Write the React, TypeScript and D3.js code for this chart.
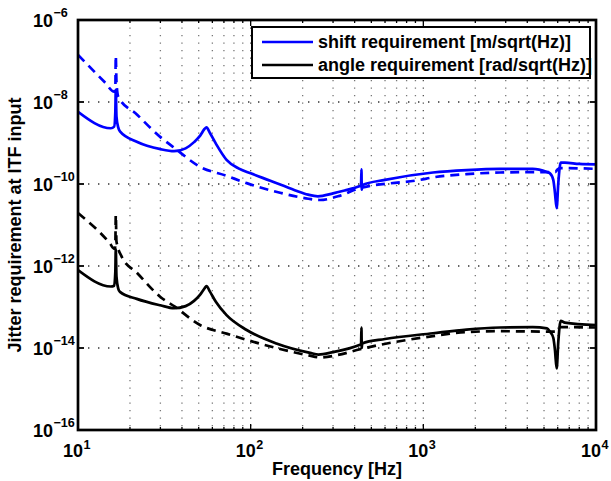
import React from "react";
import * as d3 from "d3";

// ---------- data ----------
const shiftSolidFreq = [10, 15.5, 16.2, 16.45, 16.55, 16.7, 17.1, 17.5, 21.9, 30, 36, 42, 47, 51, 54, 55.5, 58, 63, 72.5, 85, 100, 130, 180, 215, 245, 300, 350, 430, 436, 438, 440, 442, 600, 1137, 1780, 2780, 4300, 5200, 5414, 5657, 5786, 5918, 6048, 6246, 6600, 8000, 10000];
const shiftSolidVal = [5.75e-9, 2.29e-9, 2.51e-9, 5.62e-9, 1.95e-8, 4.47e-9, 2.4e-9, 1.91e-9, 1.07e-9, 7.08e-10, 6.31e-10, 7.41e-10, 1.05e-9, 1.51e-9, 2.19e-9, 2.4e-9, 1.78e-9, 9.55e-10, 3.89e-10, 2.4e-10, 1.82e-10, 1.2e-10, 7.08e-11, 5.5e-11, 5.01e-11, 5.89e-11, 6.92e-11, 8.91e-11, 9.12e-11, 2.29e-10, 7.24e-11, 9.33e-11, 1.26e-10, 1.91e-10, 2.19e-10, 2.34e-10, 2.34e-10, 1.95e-10, 1.82e-10, 1.26e-10, 6.03e-11, 2.57e-11, 1.05e-10, 3.31e-10, 3.31e-10, 3.09e-10, 3.02e-10];

const shiftDashFreq = [10, 14.3, 16.2, 16.45, 16.55, 16.7, 17.1, 22, 29.9, 36.4, 50.9, 72.5, 94.8, 150, 216, 252, 320, 430, 957, 1137, 1780, 2780, 4700, 5800, 6000, 6250, 10000];
const shiftDashVal = [1.41e-7, 3.02e-8, 1.78e-8, 2.0e-8, 1.32e-7, 3.16e-8, 1.35e-8, 4.9e-9, 1.41e-9, 7.41e-10, 2.63e-10, 1.58e-10, 1.05e-10, 6.03e-11, 4.37e-11, 4.07e-11, 5.01e-11, 7.94e-11, 1.26e-10, 1.45e-10, 1.74e-10, 1.91e-10, 1.95e-10, 1.95e-10, 2.29e-10, 2.45e-10, 2.34e-10];

const angleSolidFreq = [10, 15.5, 16.2, 16.45, 16.55, 16.7, 17.1, 17.5, 21.9, 30, 36, 42, 47, 51, 54, 55.5, 58, 63, 72.5, 94.8, 141, 221, 247, 300, 430, 436, 438, 440, 442, 600, 1137, 1780, 2780, 4300, 5200, 5414, 5657, 5786, 5918, 6048, 6246, 6600, 10000];
const angleSolidVal = [7.94e-13, 3.16e-13, 3.31e-13, 7.08e-13, 2.57e-12, 5.62e-13, 2.82e-13, 2.34e-13, 1.58e-13, 1.1e-13, 9.33e-14, 1.05e-13, 1.41e-13, 2.0e-13, 2.82e-13, 3.24e-13, 2.4e-13, 1.32e-13, 6.31e-14, 2.75e-14, 1.29e-14, 7.59e-15, 6.92e-15, 7.94e-15, 1.2e-14, 1.23e-14, 3.16e-14, 1.0e-14, 1.29e-14, 1.66e-14, 2.29e-14, 2.82e-14, 3.16e-14, 3.24e-14, 3.02e-14, 2.51e-14, 1.78e-14, 8.91e-15, 3.16e-15, 1.41e-14, 4.57e-14, 4.17e-14, 3.63e-14];

const angleDashFreq = [10, 15.3, 16.2, 16.45, 16.55, 16.7, 17.9, 22, 29.9, 36.4, 50.9, 72.5, 94.8, 150, 216, 252, 320, 430, 1137, 1780, 2780, 5800, 6000, 6250, 10000];
const angleDashVal = [1.95e-11, 3.55e-12, 2.63e-12, 3.02e-12, 1.74e-11, 3.98e-12, 1.7e-12, 6.76e-13, 1.78e-13, 1.02e-13, 3.63e-14, 2.24e-14, 1.58e-14, 9.33e-15, 6.61e-15, 5.89e-15, 6.76e-15, 9.33e-15, 1.95e-14, 2.45e-14, 2.57e-14, 2.51e-14, 3.02e-14, 3.24e-14, 3.16e-14];

const xTickExps = [1, 2, 3, 4];
const yTickExps = [-6, -8, -10, -12, -14, -16];
const legendLabels = ["shift requirement [m/sqrt(Hz)]", "angle requirement [rad/sqrt(Hz)]"];
const legendColors = ["#0000ff", "#000000"];

// ---------- layout ----------
const W = 611;
const H = 481;
const L = 78, R = 596, T = 20, B = 430;
const FONT = "'Liberation Sans', Arial, Helvetica, sans-serif";

export default function App() {
  const x = d3.scaleLog().domain([10, 1e4]).range([L, R]);
  const y = d3.scaleLog().domain([1e-16, 1e-6]).range([B, T]);

  const line = d3
    .line<[number, number]>()
    .x((d) => x(d[0]))
    .y((d) => y(d[1]))
    .curve(d3.curveMonotoneX);

  const zip = (f: number[], v: number[]) => f.map((ff, i) => [ff, v[i]] as [number, number]);

  const series = [
    { pts: zip(shiftDashFreq, shiftDashVal), color: "#0000ff", dash: "9,6" },
    { pts: zip(angleDashFreq, angleDashVal), color: "#000000", dash: "9,6" },
    { pts: zip(shiftSolidFreq, shiftSolidVal), color: "#0000ff", dash: null },
    { pts: zip(angleSolidFreq, angleSolidVal), color: "#000000", dash: null },
  ];

  // minor + major x grid positions
  const xGrid: number[] = [];
  [10, 100, 1000].forEach((dec) => {
    for (let k = 1; k <= 9; k++) {
      const v = k * dec;
      if (v > 10 && v < 1e4) xGrid.push(v);
    }
  });
  const xMajorInner = [100, 1000];
  const yGrid = [1e-8, 1e-10, 1e-12, 1e-14];

  return (
    <svg
      width={W}
      height={H}
      style={{ position: "absolute", left: 0, top: 0, background: "#fff" }}
      fontFamily={FONT}
      fontWeight="bold"
    >
      <defs>
        <clipPath id="plotclip">
          <rect x={L} y={T} width={R - L} height={B - T} />
        </clipPath>
      </defs>
      <rect x={0} y={0} width={W} height={H} fill="#fff" />

      {/* grid */}
      {xGrid.map((v) => (
        <line
          key={"xg" + v}
          x1={x(v)}
          x2={x(v)}
          y1={T}
          y2={B}
          stroke={xMajorInner.includes(v) ? "#555" : "#777"}
          strokeWidth={1.3}
          strokeDasharray="1.3,6.2"
        />
      ))}
      {yGrid.map((v) => (
        <line
          key={"yg" + v}
          x1={L}
          x2={R}
          y1={y(v)}
          y2={y(v)}
          stroke="#333"
          strokeWidth={1.4}
          strokeDasharray="1.4,8.6"
        />
      ))}

      {/* curves */}
      <g clipPath="url(#plotclip)">
        {series.map((s, i) => (
          <path
            key={i}
            d={line(s.pts) || ""}
            fill="none"
            stroke={s.color}
            strokeWidth={2.7}
            strokeDasharray={s.dash || undefined}
            strokeLinejoin="round"
          />
        ))}
      </g>

      {/* ticks */}
      {xGrid.map((v) => {
        const len = xMajorInner.includes(v) ? 6 : 3;
        return (
          <g key={"xt" + v} stroke="#000" strokeWidth={1.3}>
            <line x1={x(v)} x2={x(v)} y1={B} y2={B - len} />
            <line x1={x(v)} x2={x(v)} y1={T} y2={T + len} />
          </g>
        );
      })}
      {yGrid.map((v) => (
        <g key={"yt" + v} stroke="#000" strokeWidth={1.8}>
          <line x1={L} x2={L + 6} y1={y(v)} y2={y(v)} />
          <line x1={R} x2={R - 6} y1={y(v)} y2={y(v)} />
        </g>
      ))}

      {/* frame */}
      <rect x={L} y={T} width={R - L} height={B - T} fill="none" stroke="#000" strokeWidth={2.7} />

      {/* y tick labels */}
      {yTickExps.map((e) => {
        const yy = y(Math.pow(10, e));
        return (
          <g key={"yl" + e} fill="#000">
            <text x={53} y={yy + 7} fontSize={18} textAnchor="end">10</text>
            <text x={53.5} y={yy - 3} fontSize={12.6}>{"\u2212" + Math.abs(e)}</text>
          </g>
        );
      })}

      {/* x tick labels */}
      {xTickExps.map((e) => {
        const xx = x(Math.pow(10, e));
        return (
          <g key={"xl" + e} fill="#000">
            <text x={xx + 5} y={457} fontSize={18} textAnchor="end">10</text>
            <text x={xx + 5.5} y={449} fontSize={12.6}>{e}</text>
          </g>
        );
      })}

      {/* axis labels */}
      <text x={(L + R) / 2} y={475} fontSize={18} textAnchor="middle" fill="#000">
        Frequency [Hz]
      </text>
      <text
        transform={`translate(21, ${(T + B) / 2}) rotate(-90)`}
        fontSize={18}
        textAnchor="middle"
        fill="#000"
      >
        Jitter requirement at ITF input
      </text>

      {/* legend */}
      <rect x={252} y={27} width={338} height={51} fill="#fff" stroke="#000" strokeWidth={2} />
      {legendLabels.map((lab, i) => {
        const ly = 42 + i * 23;
        return (
          <g key={"lg" + i}>
            <line x1={262} x2={313} y1={ly} y2={ly} stroke={legendColors[i]} strokeWidth={2.7} />
            <text x={318} y={ly + 6} fontSize={18} fill="#000">{lab}</text>
          </g>
        );
      })}
    </svg>
  );
}
